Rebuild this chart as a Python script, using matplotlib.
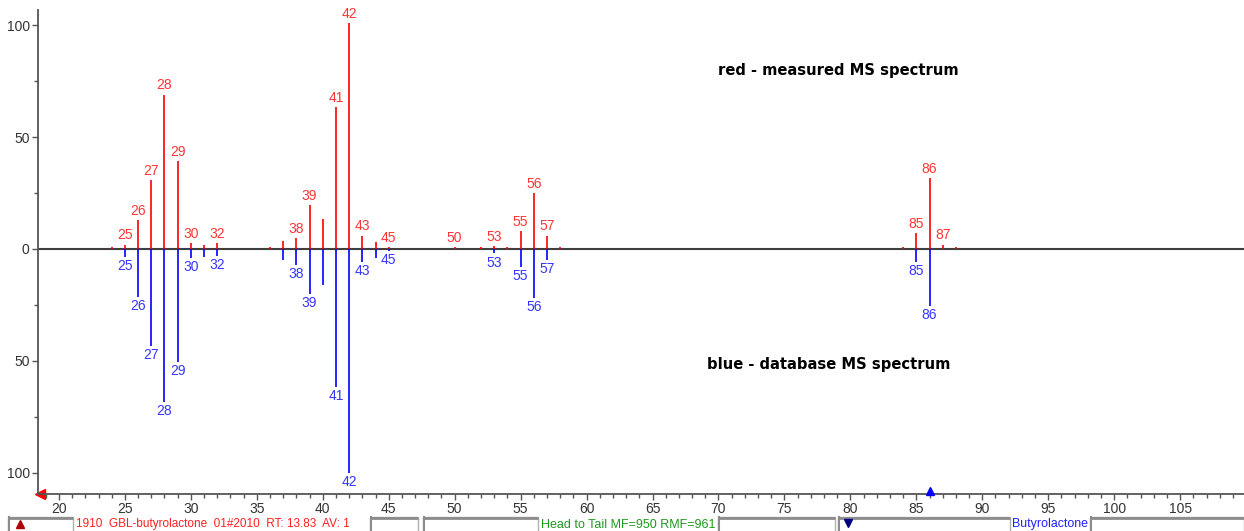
import matplotlib
matplotlib.use("Agg")
import matplotlib.pyplot as plt
from matplotlib.patches import Rectangle
from matplotlib.ticker import MultipleLocator, FuncFormatter

# ---------------- data ----------------
red_mz = [24, 25, 26, 27, 28, 29, 30, 31, 32, 36, 37, 38, 39, 40, 41, 42, 43, 44, 45,
          50, 52, 53, 54, 55, 56, 57, 58, 84, 85, 86, 87, 88]
red_int = [0.8, 2, 13, 31, 69, 39.5, 2.5, 2, 2.5, 0.8, 3.6, 5, 19.5, 13.6, 63.6, 101, 6, 3, 0.8,
           0.8, 0.8, 1.5, 0.8, 8, 25, 6, 0.8, 0.8, 7, 31.5, 2, 0.8]
red_labeled = [25, 26, 27, 28, 29, 30, 32, 38, 39, 41, 42, 43, 45, 50, 53, 55, 56, 57, 85, 86, 87]

blue_mz = [25, 26, 27, 28, 29, 30, 31, 32, 37, 38, 39, 40, 41, 42, 43, 44, 45, 53, 55, 56, 57, 85, 86]
blue_int = [3.5, 21.5, 43.5, 68.5, 50.5, 4, 3.5, 3, 5, 7, 20, 16, 61.5, 100, 6, 4, 1, 2, 8, 22, 5, 6, 25.5]
blue_labeled = [25, 26, 27, 28, 29, 30, 32, 38, 39, 41, 42, 43, 45, 53, 55, 56, 57, 85, 86]

x_major = list(range(20, 110, 5))
y_major = [-100, -50, 0, 50, 100]
y_minor = [-75, -25, 25, 75]

legend_red = "red - measured MS spectrum"
legend_blue = "blue - database MS spectrum"
status_red = "1910  GBL-butyrolactone  01#2010  RT: 13.83  AV: 1"
status_green = "Head to Tail MF=950 RMF=961"
status_blue = "Butyrolactone"

# ---------------- figure ----------------
W, H = 1244, 531
fig = plt.figure(figsize=(W / 100, H / 100), dpi=100)
fig.patch.set_facecolor("white")
font = "Liberation Sans"

# overlay axes in pixel coordinates for the status bar
ov = fig.add_axes([0, 0, 1, 1], zorder=0)
ov.set_xlim(0, W)
ov.set_ylim(H, 0)
ov.axis("off")

boxes = [(8, 73), (370, 418), (423, 538), (718, 835), (838, 1010), (1090, 1244)]
for x0, x1 in boxes:
    ov.add_patch(Rectangle((x0, 517), x1 - x0, 16, facecolor="white",
                           edgecolor="#B0B0B0", lw=1))
    ov.plot([x0, x1], [517.5, 517.5], color="#8C8C8C", lw=2, solid_capstyle="butt")
    ov.plot([x0 + 0.5, x0 + 0.5], [517, 531], color="#8C8C8C", lw=1.5)

ov.plot([20], [524], marker="^", color="#B00000", markersize=6)
ov.plot([848], [523], marker="v", color="#000080", markersize=6)

ov.text(76, 524.5, status_red, color="#FF2020", fontsize=8.5, family=font,
        va="center", ha="left")
ov.text(541, 524.5, status_green, color="#1E9A1E", fontsize=9, family=font,
        va="center", ha="left")
ov.text(1012, 524.5, status_blue, color="#2020FF", fontsize=8.9, family=font,
        va="center", ha="left")

# main axes
left_px, right_px, top_px, bottom_px = 38, 1244, 10, 494
ax = fig.add_axes([left_px / W, 1 - bottom_px / H, (right_px - left_px) / W,
                   (bottom_px - top_px) / H], zorder=1)
ax.patch.set_alpha(0)
ax.set_xlim(18.41, 109.84)
ax.set_ylim(-109.5, 106.8)

for s in ["top", "right"]:
    ax.spines[s].set_visible(False)
for s in ["left", "bottom"]:
    ax.spines[s].set_color("#555555")
    ax.spines[s].set_linewidth(1.3)

ax.xaxis.set_major_locator(plt.FixedLocator(x_major))
ax.xaxis.set_minor_locator(MultipleLocator(1))
ax.yaxis.set_major_locator(plt.FixedLocator(y_major))
ax.yaxis.set_minor_locator(plt.FixedLocator(y_minor))
ax.yaxis.set_major_formatter(FuncFormatter(lambda v, p: f"{abs(v):g}"))
ax.tick_params(axis="both", which="major", length=4, width=1, color="#555555",
               labelsize=10, labelcolor="#333333", pad=2)
ax.tick_params(axis="both", which="minor", length=3, width=1, color="#555555")
for lab in ax.get_xticklabels() + ax.get_yticklabels():
    lab.set_family(font)

# zero line
ax.axhline(0, color="#404040", lw=1.5, zorder=2)

# peaks
ax.vlines(red_mz, 0, red_int, colors="#FF0000", lw=1.2, zorder=3)
ax.vlines(blue_mz, [-v for v in blue_int], 0, colors="#0000FF", lw=1.2, zorder=3)

for mz, v in zip(red_mz, red_int):
    if mz in red_labeled:
        ax.annotate(str(mz), (mz, v), xytext=(0, 1.5), textcoords="offset points",
                    ha="center", va="bottom", color="#FF3535", fontsize=10, family=font)
for mz, v in zip(blue_mz, blue_int):
    if mz in blue_labeled:
        ax.annotate(str(mz), (mz, -v), xytext=(0, -1.5), textcoords="offset points",
                    ha="center", va="top", color="#3535FF", fontsize=10, family=font)

# legend-like texts
ax.text(838, 71, legend_red, transform=ov.transData, ha="center", va="center",
        fontsize=10.6, fontweight="bold", family="DejaVu Sans", color="black")
ax.text(829, 364, legend_blue, transform=ov.transData, ha="center", va="center",
        fontsize=10.6, fontweight="bold", family="DejaVu Sans", color="black")

# markers on axis
ov.plot([40], [494], marker="<", color="#FF0000", markersize=7, zorder=5)
ax.annotate("", (86, -109.5), xytext=(0, 3), textcoords="offset points")
ax.plot([86], [-108.3], marker="^", color="#0000FF", markersize=6, clip_on=False,
        zorder=5)

fig.savefig("out.png", dpi=100, facecolor="white")
